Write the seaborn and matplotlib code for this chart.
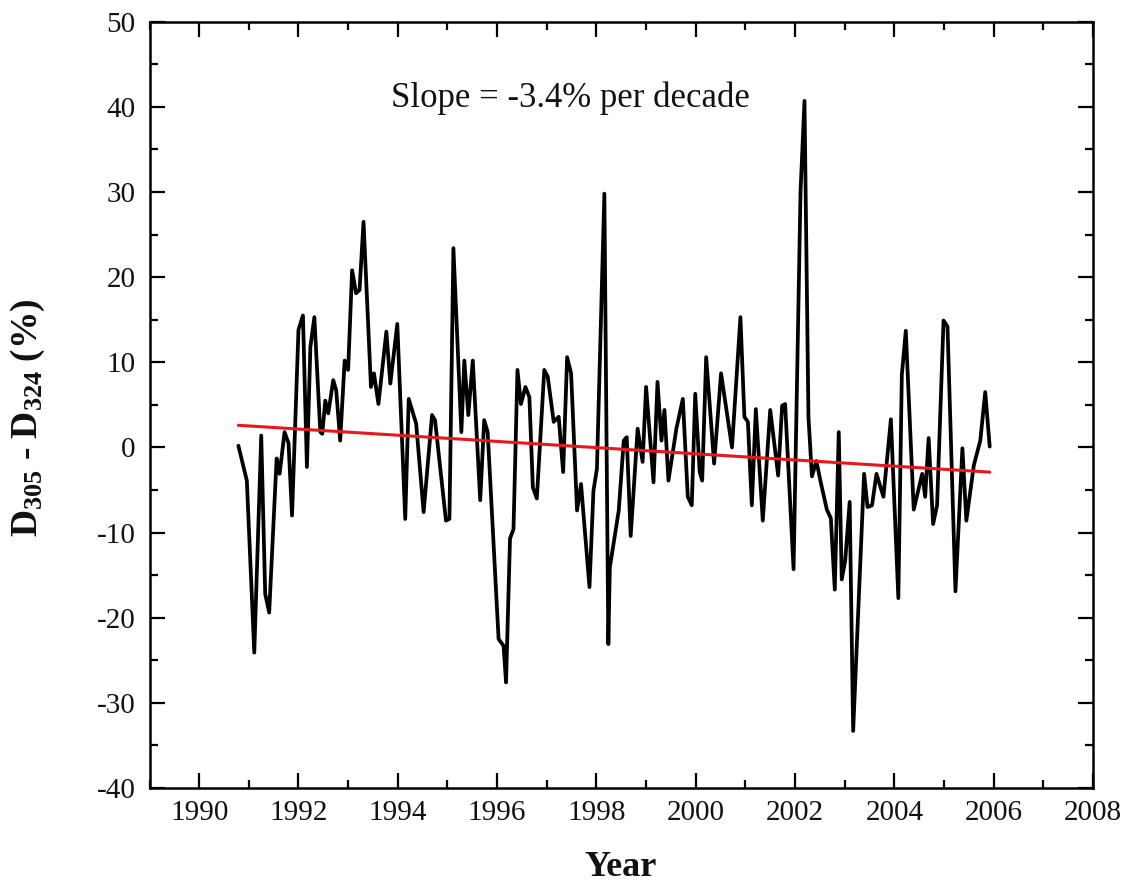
import numpy as np
import pandas as pd
import matplotlib
matplotlib.use("Agg")
import matplotlib.pyplot as plt
from matplotlib.ticker import MultipleLocator
import seaborn as sns

# ---- data ----
years = [1990.79, 1990.96, 1991.11, 1991.25, 1991.33, 1991.41, 1991.56, 1991.62, 1991.72, 1991.80,
         1991.87, 1992.00, 1992.09, 1992.17, 1992.24, 1992.32, 1992.44, 1992.48, 1992.54, 1992.60,
         1992.70, 1992.76, 1992.84, 1992.93, 1993.00, 1993.08, 1993.16, 1993.23, 1993.31, 1993.46,
         1993.52, 1993.61, 1993.77, 1993.85, 1993.99, 1994.15, 1994.22, 1994.37, 1994.52, 1994.69,
         1994.75, 1994.97, 1995.04, 1995.12, 1995.28, 1995.34, 1995.42, 1995.51, 1995.66, 1995.74,
         1995.81, 1996.03, 1996.13, 1996.18, 1996.26, 1996.33, 1996.41, 1996.48, 1996.57, 1996.65,
         1996.72, 1996.80, 1996.95, 1997.02, 1997.14, 1997.24, 1997.33, 1997.41, 1997.49, 1997.61,
         1997.69, 1997.86, 1997.94, 1998.01, 1998.16, 1998.24, 1998.27, 1998.45, 1998.55, 1998.61,
         1998.69, 1998.83, 1998.93, 1999.00, 1999.15, 1999.23, 1999.31, 1999.37, 1999.45, 1999.61,
         1999.74, 1999.84, 1999.92, 1999.99, 2000.08, 2000.13, 2000.21, 2000.37, 2000.51, 2000.73,
         2000.90, 2000.98, 2001.05, 2001.13, 2001.21, 2001.35, 2001.50, 2001.66, 2001.74, 2001.80,
         2001.97, 2002.11, 2002.19, 2002.27, 2002.34, 2002.43, 2002.51, 2002.64, 2002.72, 2002.80,
         2002.88, 2002.94, 2003.01, 2003.10, 2003.17, 2003.39, 2003.46, 2003.55, 2003.64, 2003.78,
         2003.93, 2004.08, 2004.15, 2004.23, 2004.39, 2004.56, 2004.62, 2004.69, 2004.78, 2004.86,
         2004.99, 2005.07, 2005.23, 2005.37, 2005.45, 2005.60, 2005.73, 2005.83, 2005.92]
values = [0.2, -3.9, -24.1, 1.4, -17.2, -19.4, -1.3, -3.1, 1.8, 0.5,
          -8.0, 13.8, 15.5, -2.3, 11.8, 15.3, 1.8, 1.6, 5.5, 4.0,
          7.9, 6.7, 0.8, 10.2, 9.1, 20.8, 18.1, 18.5, 26.5, 7.1,
          8.7, 5.1, 13.6, 7.5, 14.5, -8.4, 5.7, 2.8, -7.6, 3.8,
          3.2, -8.6, -8.4, 23.4, 1.8, 10.2, 3.8, 10.2, -6.2, 3.2,
          1.8, -22.5, -23.3, -27.6, -10.7, -9.6, 9.1, 5.1, 7.1, 5.9,
          -4.7, -6.0, 9.1, 8.3, 3.0, 3.6, -2.9, 10.6, 8.7, -7.4,
          -4.3, -16.4, -5.1, -2.5, 29.8, -23.1, -14.1, -7.4, 0.8, 1.2,
          -10.4, 2.2, -1.7, 7.1, -4.1, 7.7, 0.8, 4.4, -3.9, 2.2,
          5.7, -5.8, -6.8, 6.3, -2.9, -3.9, 10.6, -1.9, 8.7, 0.0,
          15.3, 3.6, 3.0, -6.8, 4.5, -8.6, 4.4, -3.3, 4.9, 5.1,
          -14.3, 30.0, 40.7, 3.6, -3.4, -1.6, -3.9, -7.3, -8.3, -16.7,
          1.8, -15.5, -13.3, -6.4, -33.3, -3.1, -7.0, -6.8, -3.1, -5.8,
          3.3, -17.7, 8.5, 13.7, -7.3, -3.1, -5.8, 1.1, -9.0, -6.8,
          14.9, 14.2, -16.9, -0.1, -8.6, -2.1, 0.8, 6.5, 0.1]

trend_years = [1990.79, 2005.92]
trend_values = [2.6, -2.9]

x_ticks = [1990, 1992, 1994, 1996, 1998, 2000, 2002, 2004, 2006, 2008]
y_ticks = [-40, -30, -20, -10, 0, 10, 20, 30, 40, 50]

annotation = "Slope = -3.4% per decade"

df = pd.DataFrame({"Year": years, "Diff": values})
trend = pd.DataFrame({"Year": trend_years, "Diff": trend_values})

sns.set_theme(style="ticks")
plt.rcParams["font.family"] = ["Liberation Serif", "DejaVu Serif"]
plt.rcParams["mathtext.fontset"] = "custom"
plt.rcParams["mathtext.rm"] = "Liberation Serif"
plt.rcParams["mathtext.bf"] = "Liberation Serif:bold"
plt.rcParams["mathtext.it"] = "Liberation Serif:italic"
plt.rcParams["axes.unicode_minus"] = False

fig = plt.figure(figsize=(11.27, 8.86), dpi=100)
ax = fig.add_axes([149.5 / 1127, (886 - 788) / 886, (1093 - 149.5) / 1127, (788 - 21.7) / 886])

sns.lineplot(data=df, x="Year", y="Diff", ax=ax, color="black", linewidth=2.7,
             estimator=None, sort=False)
sns.lineplot(data=trend, x="Year", y="Diff", ax=ax, color="#e8171c", linewidth=2.2,
             estimator=None, sort=False)

ax.set_xlim(1989, 2008)
ax.set_ylim(-40, 50)
ax.set_xticks(x_ticks)
ax.set_yticks(y_ticks)
ax.xaxis.set_minor_locator(MultipleLocator(1))
ax.yaxis.set_minor_locator(MultipleLocator(5))
ax.tick_params(which="both", direction="in", top=True, right=True, width=1.6, color="black",
               labelsize=21, labelcolor="#111111")
ax.tick_params(which="major", length=11)
ax.tick_params(which="minor", length=5.5)
ax.tick_params(axis="x", which="major", pad=9)
ax.tick_params(axis="y", which="major", pad=10)
for sp in ax.spines.values():
    sp.set_visible(True)
    sp.set_linewidth(1.8)
    sp.set_color("black")

ax.set_xlabel("Year", fontsize=26, fontweight="bold", color="#111111")
ax.set_ylabel(r"$\mathbf{D_{305}}$ - $\mathbf{D_{324}}$ (%)", fontsize=27, fontweight="bold",
              color="#111111")
ax.xaxis.set_label_coords(0.4997, -0.082)
ax.yaxis.set_label_coords(-0.109, 0.484)

ax.text(0.4457, 0.889, annotation, transform=ax.transAxes, ha="center", va="baseline",
        fontsize=25, color="#111111")

fig.savefig("out.png", dpi=100, facecolor="white")
